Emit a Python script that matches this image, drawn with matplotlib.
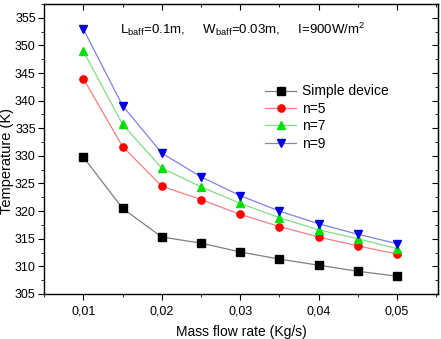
import matplotlib
matplotlib.use('Agg')
import matplotlib.pyplot as plt
from matplotlib.ticker import MultipleLocator, FuncFormatter

plt.rcParams['font.family'] = ['Liberation Sans', 'DejaVu Sans']
plt.rcParams['mathtext.fontset'] = 'custom'
plt.rcParams['mathtext.rm'] = 'Liberation Sans'

# Mass flow rate (Kg/s)
mass_flow = [0.010, 0.015, 0.020, 0.025, 0.030, 0.035, 0.040, 0.045, 0.050]

# Outlet temperature (K)
simple_device = [329.8, 320.5, 315.3, 314.2, 312.6, 311.3, 310.2, 309.1, 308.2]
n5 = [344.0, 331.7, 324.5, 322.1, 319.4, 317.2, 315.3, 313.7, 312.2]
n7 = [349.0, 335.7, 327.8, 324.4, 321.4, 318.8, 316.6, 315.0, 313.2]
n9 = [353.0, 339.1, 330.5, 326.2, 322.8, 320.0, 317.7, 315.8, 314.1]

labels = ['Simple device', 'n=5', 'n=7', 'n=9']

fig = plt.figure(figsize=(4.41, 3.39), dpi=100)
ax = fig.add_axes([0.1, 0.133, 0.893, 0.855])

series = [simple_device, n5, n7, n9]
markers = ['s', 'o', '^', 'v']
face = ['black', 'red', '#00e000', '#0000dd']
line_col = ['#808080', '#f08080', '#80e080', '#8080e8']

for temps, lab, m, fc, lc in zip(series, labels, markers, face, line_col):
    ax.plot(mass_flow, temps, color=lc, linewidth=0.9, marker=m, markersize=5.2,
            markerfacecolor=fc, markeredgecolor=fc, label=lab)

ax.set_xlim(0.005, 0.0552)
ax.set_ylim(305, 357.5)
ax.xaxis.set_major_locator(MultipleLocator(0.01))
ax.xaxis.set_minor_locator(MultipleLocator(0.005))
ax.yaxis.set_major_locator(MultipleLocator(5))
ax.yaxis.set_minor_locator(MultipleLocator(2.5))
ax.xaxis.set_major_formatter(FuncFormatter(lambda v, p: f'{v:.2f}'.replace('.', ',')))
ax.tick_params(which='both', direction='out', labelsize=9)
ax.tick_params(axis='x', pad=4)
ax.tick_params(axis='y', pad=2)
ax.tick_params(which='major', length=4)
ax.tick_params(which='minor', length=2)
for sp in ax.spines.values():
    sp.set_linewidth(1.0)

# top and right ticks point inward
top = ax.secondary_xaxis('top')
top.xaxis.set_major_locator(MultipleLocator(0.01))
top.xaxis.set_minor_locator(MultipleLocator(0.005))
top.tick_params(which='both', direction='in', labeltop=False)
top.tick_params(which='major', length=4)
top.tick_params(which='minor', length=2)
right = ax.secondary_yaxis('right')
right.yaxis.set_major_locator(MultipleLocator(5))
right.yaxis.set_minor_locator(MultipleLocator(2.5))
right.tick_params(which='both', direction='in', labelright=False)
right.tick_params(which='major', length=4)
right.tick_params(which='minor', length=2)

ax.set_xlabel('Mass flow rate (Kg/s)', fontsize=10, labelpad=6)
ax.set_ylabel('Temperature (K)', fontsize=10.5)
ax.yaxis.set_label_coords(-0.076, 0.457)

ax.text(0.0147, 353,
        r'L$_{\rm baff}$=0.1m,     W$_{\rm baff}$=0.03m,     I=900W/m$^2$',
        fontsize=9.5, ha='left', va='center')

ax.legend(loc='upper left', bbox_to_anchor=(0.548, 0.742), frameon=False,
          fontsize=10, handlelength=2.2, labelspacing=0.25, handletextpad=0.4,
          borderaxespad=0)

fig.savefig('out.png', dpi=100)
